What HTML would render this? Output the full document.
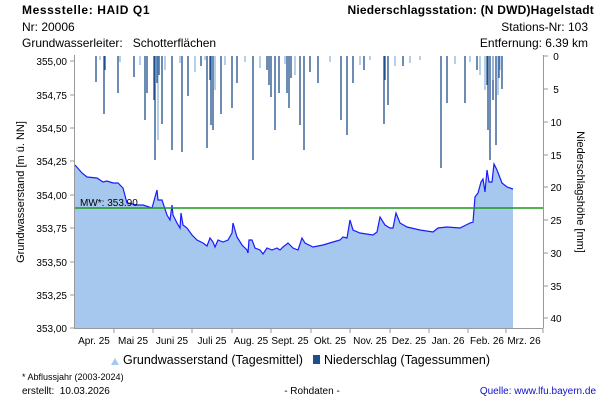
<!DOCTYPE html><html><head><style>body{margin:0;background:#fff}svg{display:block;font-family:"Liberation Sans",Arial,sans-serif}</style></head><body>
<svg width="600" height="400" viewBox="0 0 600 400">
<g font-size="12" fill="#000">
<text x="22" y="14" font-weight="bold" letter-spacing="0.6">Messstelle: HAID Q1</text>
<text x="22" y="31">Nr: 20006</text>
<text x="22" y="47" xml:space="preserve">Grundwasserleiter:   Schotterflächen</text>
<text x="594" y="14" text-anchor="end" font-weight="bold" letter-spacing="0.2">Niederschlagsstation: (N DWD)Hagelstadt</text>
<text x="588" y="31" text-anchor="end">Stations-Nr: 103</text>
<text x="588" y="47" text-anchor="end">Entfernung: 6.39 km</text>
</g>
<polygon fill="#a6c8ee" points="75,165 82,173 87,177 97,178 103,182 107,181 113,183 118,183 123,188 127,203 137,205 143,205 152,208 157,190 158,200 162,200 167,215 170,220 172,205 173,215 177,223 180,228 181,213 183,225 187,228 192,235 197,240 203,243 207,246 210,238 213,242 215,247 218,240 223,242 228,240 232,233 233,223 237,237 242,245 247,250 248,253 249,240 252,240 255,248 260,250 263,254 267,248 272,250 277,248 280,250 283,247 288,243 293,248 298,250 302,238 305,243 313,247 323,245 333,242 340,240 343,237 347,238 350,220 353,230 360,233 373,235 377,232 380,217 385,225 390,228 393,228 396,213 400,223 407,227 420,230 433,232 438,228 447,227 460,228 470,223 473,222 475,197 478,193 481,182 483,179 485,192 487,170 489,182 492,182 494,164 497,170 502,183 507,187 513,189 513,328 75,328"/>
<polyline fill="none" stroke="#1a1aff" stroke-width="1.2" points="75,165 82,173 87,177 97,178 103,182 107,181 113,183 118,183 123,188 127,203 137,205 143,205 152,208 157,190 158,200 162,200 167,215 170,220 172,205 173,215 177,223 180,228 181,213 183,225 187,228 192,235 197,240 203,243 207,246 210,238 213,242 215,247 218,240 223,242 228,240 232,233 233,223 237,237 242,245 247,250 248,253 249,240 252,240 255,248 260,250 263,254 267,248 272,250 277,248 280,250 283,247 288,243 293,248 298,250 302,238 305,243 313,247 323,245 333,242 340,240 343,237 347,238 350,220 353,230 360,233 373,235 377,232 380,217 385,225 390,228 393,228 396,213 400,223 407,227 420,230 433,232 438,228 447,227 460,228 470,223 473,222 475,197 478,193 481,182 483,179 485,192 487,170 489,182 492,182 494,164 497,170 502,183 507,187 513,189"/>
<g stroke="#1f4e8c" stroke-width="1.3">
<path d="M96 56V82M104 56V114M105 56V70M118 56V93M134 56V77M145 56V120M147 56V93M155 56V160M157 56V83M162 56V124M172 56V150M182 56V152M188 56V96M201 56V66M207 56V148M211 56V125M213 56V130M221 56V114M232 56V108M237 56V83M253 56V160M267 56V70M271 56V97M275 56V130M279 56V93M287 56V93M289 56V108M300 56V125M304 56V150M310 56V72M318 56V83M341 56V120M347 56V135M353 56V83M364 56V70M384 56V124M388 56V105M403 56V66M441 56V168M447 56V103M465 56V103M477 56V70M488 56V130M490 56V160M496 56V145M502 56V89M154 56V100M159 56V75M210 56V80M269 56V85M291 56V78M385 56V80M487 56V85M493 56V100M499 56V78"/>
</g>
<g stroke="#6fa0cf" stroke-width="1">
<path d="M100 56V60M120 56V62M140 56V65M165 56V70M180 56V63M195 56V72M205 56V60M225 56V65M245 56V62M260 56V68M285 56V64M295 56V75M330 56V62M360 56V65M370 56V60M395 56V66M410 56V63M420 56V60M455 56V64M470 56V62M480 56V75M485 56V90M493 56V80M498 56V95M500 56V70M158 56V140M215 56V90"/>
</g>
<line x1="75" y1="208" x2="543" y2="208" stroke="#1a9a1a" stroke-width="1.5"/>
<text x="80" y="206" font-size="10">MW*: 353.90</text>
<g stroke="#999" fill="none"><path d="M74.5 55V328.5H543M543.5 55V328"/></g>
<g stroke="#999"><path d="M70 61H75M70 95H75M70 128H75M70 161H75M70 195H75M70 228H75M70 262H75M70 295H75M70 328H75M543 56H548M543 89H548M543 122H548M543 155H548M543 187H548M543 220H548M543 253H548M543 286H548M543 318H548M114 328V333M153 328V333M192 328V333M232 328V333M271 328V333M311 328V333M350 328V333M390 328V333M429 328V333M468 328V333M506 328V333M543 328V333"/></g>
<g font-size="10" text-anchor="end"><text x="67" y="65">355,00</text><text x="67" y="99">354,75</text><text x="67" y="132">354,50</text><text x="67" y="165">354,25</text><text x="67" y="199">354,00</text><text x="67" y="232">353,75</text><text x="67" y="266">353,50</text><text x="67" y="299">353,25</text><text x="67" y="332">353,00</text></g>
<g font-size="10" text-anchor="middle"><text x="556" y="60">0</text><text x="556" y="93">5</text><text x="556" y="126">10</text><text x="556" y="159">15</text><text x="556" y="191">20</text><text x="556" y="224">25</text><text x="556" y="257">30</text><text x="556" y="290">35</text><text x="556" y="322">40</text></g>
<g font-size="10" text-anchor="middle"><text x="94" y="344">Apr. 25</text><text x="133" y="344">Mai 25</text><text x="172" y="344">Juni 25</text><text x="212" y="344">Juli 25</text><text x="251" y="344">Aug. 25</text><text x="290" y="344">Sept. 25</text><text x="330" y="344">Okt. 25</text><text x="370" y="344">Nov. 25</text><text x="409" y="344">Dez. 25</text><text x="448" y="344">Jan. 26</text><text x="487" y="344">Feb. 26</text><text x="524" y="344">Mrz. 26</text></g>
<text transform="translate(24,192) rotate(-90)" font-size="11" text-anchor="middle">Grundwasserstand [m ü. NN]</text>
<text transform="translate(577,192) rotate(90)" font-size="11" text-anchor="middle">Niederschlagshöhe [mm]</text>
<path d="M111 365l4-7 4 7z" fill="#a6c8ee"/>
<text x="123" y="364" font-size="12.5">Grundwasserstand (Tagesmittel)</text>
<rect x="313" y="355" width="7" height="9" fill="#1f4e8c"/>
<text x="324" y="364" font-size="12.5">Niederschlag (Tagessummen)</text>
<text x="22" y="380" font-size="9">* Abflussjahr (2003-2024)</text>
<text x="22" y="394" font-size="10" xml:space="preserve">erstellt:  10.03.2026</text>
<text x="312" y="394" font-size="10" text-anchor="middle">- Rohdaten -</text>
<text x="596" y="394" font-size="10" text-anchor="end" fill="#1010cc">Quelle: www.lfu.bayern.de</text>
</svg></body></html>
